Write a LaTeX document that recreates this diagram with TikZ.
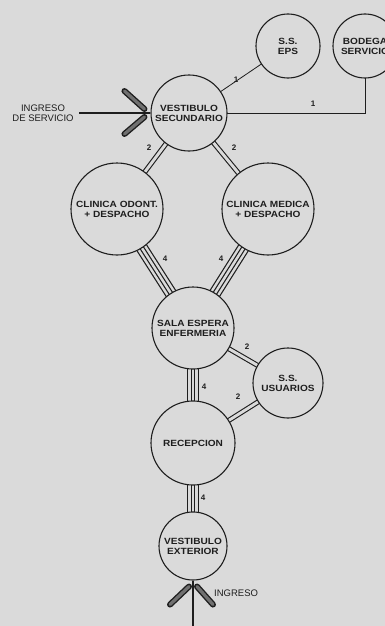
\documentclass[tikz,border=0pt]{standalone}
\usepackage{fontspec}
\setmainfont{Liberation Sans}
\newfontfamily\roomfamily[FakeStretch=1.12]{Liberation Sans}
\usetikzlibrary{calc}
\definecolor{paper}{HTML}{DADADA}
\definecolor{ink}{HTML}{1E1E1E}
\definecolor{barfill}{HTML}{707070}
\pgfdeclarelayer{bg}
\pgfdeclarelayer{links}
\pgfsetlayers{bg,links,main}
\tikzset{
  room/.style={circle, draw=ink, line width=1.1pt, fill=paper, inner sep=0pt,
    align=center, text=ink, font=\roomfamily\bfseries\fontsize{9}{10}\selectfont},
  link1/.style={draw=ink, line width=0.8pt},
  link2/.style={draw=ink, line width=1.1pt, double=paper, double distance=2.9pt},
  link4/.style={draw=ink, line width=12.3pt,
    postaction={draw=paper, line width=9.9pt},
    postaction={draw=ink, line width=4.9pt},
    postaction={draw=paper, line width=2.5pt}},
  weight/.style={text=ink, inner sep=0pt, font=\bfseries\fontsize{8}{9}\selectfont},
  outer/.style={text=ink, inner sep=0pt, align=center, font=\fontsize{9.5}{10.5}\selectfont},
  feather/.style={draw=ink, line width=6pt, line cap=round,
    postaction={draw=barfill, line width=3.2pt}},
  feed/.style={draw=ink, line width=1.2pt}
}
\begin{document}
\begin{tikzpicture}[x=1pt,y=-1pt]
\begin{pgfonlayer}{bg}
  \fill[paper] (0,0) rectangle (385,626);
\end{pgfonlayer}
\useasboundingbox (0,0) rectangle (385,626);

% rooms
\node[room, minimum size=64pt] (eps) at (288,46) {S.S.\\EPS};
\node[room, minimum size=64pt] (bod) at (365,46) {BODEGA\\SERVICIO};
\node[room, minimum size=76pt] (vsec) at (189,113) {VESTIBULO\\SECUNDARIO};
\node[room, minimum size=92pt] (odont) at (117,209) {CLINICA ODONT.\\+ DESPACHO};
\node[room, minimum size=92pt] (med) at (268,209) {CLINICA MEDICA\\+ DESPACHO};
\node[room, minimum size=82pt] (sala) at (193,328) {SALA ESPERA\\ENFERMERIA};
\node[room, minimum size=70pt] (ssu) at (288,383) {S.S.\\USUARIOS};
\node[room, minimum size=84pt] (rec) at (193,443) {RECEPCION};
\node[room, minimum size=68pt] (vext) at (193,546) {VESTIBULO\\EXTERIOR};

% entrances
\node[outer] (insvc) at (43,113) {INGRESO\\DE SERVICIO};
\node[outer, anchor=west] (inmain) at (214,593) {INGRESO};
\coordinate (svcstart) at (79,113);
\coordinate (mainstart) at (193,626);

% connectors between rooms
\begin{pgfonlayer}{links}
  \draw[link1] (vsec.center) -- (eps.center);
  \draw[link1] (vsec.center) -- (vsec.center -| bod.south) -- (bod.center);
  \draw[link2] (vsec.center) -- (odont.center);
  \draw[link2] (vsec.center) -- (med.center);
  \draw[link4] (odont.center) -- (sala.center);
  \draw[link4] (med.center) -- (sala.center);
  \draw[link2] (sala.center) -- (ssu.center);
  \draw[link2] (rec.center) -- (ssu.center);
  \draw[link4] (sala.center) -- (rec.center);
  \draw[link4] (rec.center) -- (vext.center);
\end{pgfonlayer}

% weights
\node[weight] (w1) at (236,80) {1};
\node[weight] (w2) at (313,104) {1};
\node[weight] (w3) at (149,148) {2};
\node[weight] (w4) at (234,148) {2};
\node[weight] (w5) at (165,259) {4};
\node[weight] (w6) at (221,259) {4};
\node[weight] (w7) at (247,347) {2};
\node[weight] (w8) at (204,387) {4};
\node[weight] (w9) at (238,397) {2};
\node[weight] (w10) at (203,498) {4};

% entrance arrows: two barbs meeting at the tip, fed by a single line
\draw[feather] ($(vsec.west)+(-6,-4)$) -- ($(vsec.west)+(-26,-22)$);
\draw[feather] ($(vsec.west)+(-6,4)$) -- ($(vsec.west)+(-26,21)$);
\draw[feed] (svcstart) -- (vsec.west);
\draw[feather] ($(vext.south)+(-4,6)$) -- ($(vext.south)+(-23,24)$);
\draw[feather] ($(vext.south)+(4,6)$) -- ($(vext.south)+(20,24)$);
\draw[feed] (mainstart) -- (vext.south);
\end{tikzpicture}
\end{document}
